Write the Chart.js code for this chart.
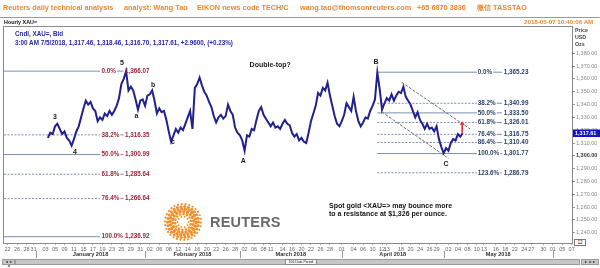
<!DOCTYPE html>
<html>
<head>
<meta charset="utf-8">
<script src="https://cdn.jsdelivr.net/npm/chart.js@4.4.1/dist/chart.umd.min.js"></script>
<style>
  html, body { margin: 0; padding: 0; background: #fff; }
  #wrap { position: relative; width: 600px; height: 268px; overflow: hidden; font-family: "Liberation Sans", Arial, sans-serif; }
  #chart { position: absolute; left: 0; top: 0; }
  .t { position: absolute; white-space: nowrap; line-height: 1; }
  .hd { top: 4px; color: #e8892f; font-weight: bold; font-size: 7.3px; }
  .ts { top: 19px; left: 524px; color: #e8892f; font-weight: bold; font-size: 6.2px; }
  .ttl { top: 20px; left: 4px; color: #111; font-weight: bold; font-size: 5.4px; }
  .panel { position: absolute; left: 0; top: 17px; width: 600px; border-top: 1px solid #9a9a9a; }
  .info { left: 15px; color: #2626a8; font-weight: bold; font-size: 6.3px; }
  .axt { left: 575px; color: #444; font-weight: bold; font-size: 5.3px; }
  .note { left: 329px; color: #111; font-weight: bold; font-size: 7px; }
  #brand { left: 210px; top: 215px; color: #6a6a6a; font-size: 14.5px; font-weight: bold; letter-spacing: 0.2px; }
  #logo { position: absolute; left: 163px; top: 202px; }
  .sb { position: absolute; top: 259px; height: 4px; background: #c6c6c6; border: 1px solid #9a9a9a; font-size: 3.6px; line-height: 4px; color: #222; text-align: center; }
  .dp { position: absolute; top: 259px; left: 285px; width: 30px; height: 4px; background: #f4f4f4; border: 1px solid #888; font-size: 3.4px; line-height: 4px; text-align: center; color: #222; }
  .box12 { position: absolute; left: 574px; top: 239px; width: 10px; height: 5px; border: 1px solid #777; font-size: 4.6px; line-height: 5px; text-align: center; color: #222; background: #fff; }
</style>
</head>
<body>
<div id="wrap">
  <canvas id="chart" width="600" height="268"></canvas>
  <div class="t hd" style="left:3px">Reuters daily technical analysis</div>
  <div class="t hd" style="left:124px">analyst: Wang Tao</div>
  <div class="t hd" style="left:197px">EIKON news code TECH/C</div>
  <div class="t hd" style="left:300px">wang.tao@thomsonreuters.com</div>
  <div class="t hd" style="left:417px">+65 6870 3836</div>
  <div class="t hd" style="left:477px">微信 TASSTAO</div>
  <div class="panel"></div>
  <div class="t ttl">Hourly XAU=</div>
  <div class="t ts">2018-05-07 10:40:06 AM</div>
  <div class="t axt" style="top:28px">Price</div>
  <div class="t axt" style="top:35px">USD</div>
  <div class="t axt" style="top:42px">Ozs</div>
  <div class="t info" style="top:31px">Cndl, XAU=, Bid</div>
  <div class="t info" style="top:39.5px">3:00 AM 7/5/2018, 1,317.46, 1,318.46, 1,316.70, 1,317.61, +2.9600, (+0.23%)</div>
  <div class="t note" style="top:201.5px">Spot gold &lt;XAU=&gt; may bounce more</div>
  <div class="t note" style="top:209.5px">to a resistance at $1,326 per ounce.</div>
  <canvas id="logo" width="40" height="40"></canvas>
  <div class="t" id="brand">REUTERS</div>
  <div class="sb" style="left:2px;width:11px">◄◄ ◄</div>
  <div class="sb" style="left:15px;width:563px"></div>
  <div class="dp">156 Data Period</div>
  <div class="sb" style="left:581px;width:16px">► ►►</div>
  <div class="box12">12</div>
</div>
<script>
// hourly XAU= closes, one value every half trading day from day 8.5 (Jan 4) to May 7
const startDay = 8.5;
const stepDay = 0.5;
const hourlyClose = [
  1314, 1318, 1317, 1323, 1325, 1321, 1317, 1319, 1314, 1312,
  1308, 1313, 1319, 1323, 1330, 1337, 1343, 1340, 1342, 1337,
  1335, 1327, 1330, 1328, 1333, 1331, 1335, 1332, 1335, 1339,
  1345, 1356, 1360, 1366, 1351, 1354, 1351, 1344, 1336, 1343,
  1344, 1339, 1347, 1348, 1351, 1343, 1333, 1337, 1334, 1335,
  1328, 1319, 1311, 1316, 1321, 1318, 1322, 1320, 1325, 1330,
  1335, 1321, 1353, 1356, 1361, 1355, 1350, 1347, 1342, 1338,
  1331, 1326, 1330, 1332, 1329, 1331, 1340, 1335, 1332, 1322,
  1318, 1316, 1312, 1304, 1316, 1315, 1321, 1320, 1328, 1335,
  1338, 1332, 1329, 1326, 1323, 1326, 1322, 1323, 1321, 1325,
  1328, 1325, 1324, 1318, 1315, 1317, 1312, 1314, 1311, 1310,
  1318, 1327, 1333, 1339, 1349, 1347, 1353, 1351, 1357, 1347,
  1339, 1331, 1325, 1323, 1327, 1332, 1341, 1338, 1335, 1346,
  1335, 1327, 1323, 1326, 1330, 1329, 1335, 1339, 1344, 1365,
  1352, 1336, 1341, 1345, 1343, 1348, 1343, 1347, 1350, 1349,
  1354, 1346, 1343, 1340, 1335, 1330, 1334, 1328, 1325, 1321,
  1325, 1321, 1322, 1319, 1323, 1313, 1307, 1302, 1306, 1304,
  1310, 1313, 1312, 1317, 1315, 1317.61
];
const lastPrice = 1317.61;

// fibonacci levels
const leftFibPct = ['0.0%', '38.2%', '50.0%', '61.8%', '76.4%', '100.0%'];
const leftFibPrice = [1366.07, 1316.35, 1300.99, 1285.64, 1266.64, 1236.92];
const leftFibDashed = [false, true, false, true, true, false];
const leftFibEnd = 19.5;
const rightFibPct = ['0.0%', '38.2%', '50.0%', '61.8%', '76.4%', '86.4%', '100.0%', '123.6%'];
const rightFibPrice = [1365.23, 1340.99, 1333.50, 1326.01, 1316.75, 1310.40, 1301.77, 1286.79];
const rightFibDashed = [false, true, false, true, true, true, false, true];
const rightFibStart = 78.0;
const rightFibEnd = 99.0;

// falling channel
const channelUpper = [[83.1, 1357.4], [97.6, 1320.9]];
const channelLower = [[78.9, 1334.4], [93.0, 1298.1]];

// wave labels
const waveText = ['3', '4', '5', 'a', 'b', 'c', 'A', 'B', 'C'];
const waveDay = [10.0, 14.2, 24.1, 27.2, 30.7, 34.9, 49.7, 77.7, 92.5];
const wavePrice = [1330.3, 1303.0, 1372.4, 1331.1, 1355.3, 1310.8, 1296.0, 1373.2, 1293.6];
const arrowDay = 95.9, arrowFrom = 1318, arrowTo = 1327;

// axes
const xMin = -0.76, xMax = 119.07;
const yMin = 1232.0, yMax = 1400.5;
const yTicks = [1240, 1250, 1260, 1270, 1280, 1290, 1300, 1310, 1320, 1330, 1340, 1350, 1360, 1370, 1380];
const tickDates = [
  '2017-12-22', '2017-12-26', '2017-12-28', '2017-12-31',
  '2018-01-03', '2018-01-05', '2018-01-09', '2018-01-11', '2018-01-15', '2018-01-17', '2018-01-19', '2018-01-23', '2018-01-25', '2018-01-29', '2018-01-31',
  '2018-02-02', '2018-02-06', '2018-02-08', '2018-02-12', '2018-02-14', '2018-02-16', '2018-02-20', '2018-02-22', '2018-02-26', '2018-02-28',
  '2018-03-02', '2018-03-06', '2018-03-08', '2018-03-11', '2018-03-14', '2018-03-16', '2018-03-20', '2018-03-22', '2018-03-26', '2018-03-28',
  '2018-04-01', '2018-04-04', '2018-04-06', '2018-04-10', '2018-04-12', '2018-04-13', '2018-04-18', '2018-04-20', '2018-04-24', '2018-04-26', '2018-04-29',
  '2018-05-02', '2018-05-04', '2018-05-08', '2018-05-10', '2018-05-13', '2018-05-16', '2018-05-18', '2018-05-22', '2018-05-24', '2018-05-27', '2018-05-30',
  '2018-06-01', '2018-06-05', '2018-06-07'
];
const monthNames = ['January 2018', 'February 2018', 'March 2018', 'April 2018', 'May 2018'];
const monthStarts = ['2018-01-01', '2018-02-01', '2018-03-01', '2018-04-01', '2018-05-01', '2018-06-01'];

// weekday count since Dec 22 2017; weekend dates sit half a day before Monday
const baseDate = Date.UTC(2017, 11, 22);
function tradingDay(s) {
  const [yy, mm, dd] = s.split('-').map(Number);
  let t = Date.UTC(yy, mm - 1, dd), shift = 0;
  const dow = new Date(t).getUTCDay();
  if (dow === 6) { t += 2 * 864e5; shift = -0.5; }
  if (dow === 0) { t += 864e5; shift = -0.5; }
  let n = 0;
  for (let u = baseDate; u < t; u += 864e5) {
    const w = new Date(u).getUTCDay();
    if (w !== 0 && w !== 6) n++;
  }
  return n + shift;
}
const tickIdx = tickDates.map(tradingDay);
const tickLabels = tickDates.map(d => d.slice(8));
const monthIdx = monthStarts.map(tradingDay);

const fmt = v => v.toLocaleString('en-US', { minimumFractionDigits: 2, maximumFractionDigits: 2 });

const fibColor = '#7b8db0';
const datasets = [{
  data: hourlyClose.map((p, i) => ({ x: startDay + i * stepDay, y: p })),
  borderColor: '#20208f', borderWidth: 2, pointRadius: 0, tension: 0
}];
leftFibPrice.forEach((p, i) => datasets.push({
  data: [{ x: xMin, y: p }, { x: leftFibEnd, y: p }],
  borderColor: fibColor, borderWidth: 1, borderDash: leftFibDashed[i] ? [2, 1.5] : [], pointRadius: 0
}));
rightFibPrice.forEach((p, i) => datasets.push({
  data: [{ x: rightFibStart, y: p }, { x: rightFibEnd, y: p }],
  borderColor: fibColor, borderWidth: 1, borderDash: rightFibDashed[i] ? [2, 1.5] : [], pointRadius: 0
}));
[channelUpper, channelLower].forEach(c => datasets.push({
  data: c.map(([d, p]) => ({ x: d, y: p })),
  borderColor: '#444', borderWidth: 0.8, borderDash: [3, 1.5], pointRadius: 0
}));

const overlay = {
  id: 'overlay',
  afterDatasetsDraw(chart) {
    const { ctx, scales: { x, y }, chartArea: a } = chart;
    ctx.save();
    ctx.strokeStyle = '#8a8a8a';
    ctx.lineWidth = 1;
    ctx.strokeRect(a.left - 0.5, a.top - 0.5, a.right - a.left + 1, a.bottom - a.top + 1);
    ctx.textBaseline = 'middle';
    ctx.font = 'bold 6.3px "Liberation Sans"';
    // left fib labels
    leftFibPct.forEach((t, i) => {
      const py = y.getPixelForValue(leftFibPrice[i]), px = x.getPixelForValue(leftFibEnd);
      ctx.fillStyle = '#9c2536';
      ctx.fillText(t, px + 1.5, py);
      const w = ctx.measureText(t).width;
      ctx.strokeStyle = fibColor; ctx.beginPath();
      ctx.moveTo(px + 2.5 + w, py); ctx.lineTo(px + 23.5, py); ctx.stroke();
      ctx.fillText(fmt(leftFibPrice[i]), px + 25, py);
    });
    // right fib labels
    rightFibPct.forEach((t, i) => {
      const py = y.getPixelForValue(rightFibPrice[i]), px = x.getPixelForValue(rightFibEnd);
      ctx.fillStyle = '#2b3f6b';
      ctx.fillText(t, px + 1, py);
      const w = ctx.measureText(t).width;
      ctx.strokeStyle = fibColor; ctx.beginPath();
      ctx.moveTo(px + 2 + w, py); ctx.lineTo(px + 25, py); ctx.stroke();
      ctx.fillText(fmt(rightFibPrice[i]), px + 27, py);
    });
    // wave labels
    ctx.fillStyle = '#1a1a1a';
    ctx.textAlign = 'center';
    ctx.font = 'bold 7px "Liberation Sans"';
    waveText.forEach((t, i) => ctx.fillText(t, x.getPixelForValue(waveDay[i]), y.getPixelForValue(wavePrice[i])));
    ctx.fillText('Double-top?', x.getPixelForValue(55.4), y.getPixelForValue(1370.6));
    // red arrow
    const ax = x.getPixelForValue(arrowDay), ay0 = y.getPixelForValue(arrowFrom), ay1 = y.getPixelForValue(arrowTo);
    ctx.strokeStyle = '#e02a2a'; ctx.fillStyle = '#e02a2a'; ctx.lineWidth = 1.6;
    ctx.beginPath(); ctx.moveTo(ax, ay0); ctx.lineTo(ax, ay1 + 3); ctx.stroke();
    ctx.beginPath(); ctx.moveTo(ax - 2.6, ay1 + 3.5); ctx.lineTo(ax + 2.6, ay1 + 3.5); ctx.lineTo(ax, ay1); ctx.closePath(); ctx.fill();
    // month labels and separators
    ctx.font = 'bold 5.6px "Liberation Sans"';
    ctx.fillStyle = '#333';
    ctx.strokeStyle = '#999'; ctx.lineWidth = 1;
    monthIdx.forEach((d, i) => {
      const px = Math.round(x.getPixelForValue(d)) + 0.5;
      ctx.beginPath(); ctx.moveTo(px, 251); ctx.lineTo(px, 258); ctx.stroke();
      if (i < monthNames.length) {
        ctx.fillText(monthNames[i], (x.getPixelForValue(d) + x.getPixelForValue(monthIdx[i + 1])) / 2, 254.5);
      }
    });
    ctx.restore();
  },
  afterDraw(chart) {
    const { ctx, scales: { y }, chartArea: a } = chart;
    const py = y.getPixelForValue(lastPrice);
    ctx.save();
    ctx.fillStyle = '#1414c4';
    ctx.fillRect(a.right + 1, py - 3.8, 600 - a.right - 1, 7.6);
    ctx.fillStyle = '#fff';
    ctx.font = 'bold 5.5px "Liberation Sans"';
    ctx.textBaseline = 'middle';
    ctx.fillText(fmt(lastPrice), a.right + 3, py);
    ctx.restore();
  }
};

new Chart(document.getElementById('chart'), {
  type: 'line',
  data: { datasets },
  options: {
    responsive: false,
    animation: false,
    layout: { padding: { left: 4, top: 27, right: 0, bottom: 0 } },
    plugins: { legend: { display: false }, tooltip: { enabled: false } },
    scales: {
      x: {
        type: 'linear', min: xMin, max: xMax,
        afterBuildTicks: s => { s.ticks = tickIdx.map(v => ({ value: v })); },
        afterFit: s => { s.height = 25; s.paddingLeft = 0; s.paddingRight = 0; },
        ticks: { autoSkip: false, maxRotation: 0, padding: 1, color: '#666',
          font: { size: 5.5, family: 'Liberation Sans' },
          callback: (v, i) => tickLabels[i] },
        grid: { drawOnChartArea: false, tickLength: 2, color: '#aaa' },
        border: { color: '#888' }
      },
      y: {
        position: 'right', min: yMin, max: yMax,
        afterBuildTicks: s => { s.ticks = yTicks.map(v => ({ value: v })); },
        afterFit: s => { s.width = 28; s.paddingTop = 0; s.paddingBottom = 0; },
        ticks: { autoSkip: false, padding: 1,
          color: c => (c.tick && c.tick.value === 1300 ? '#333' : '#888'),
          font: c => ({ size: 5.5, family: 'Liberation Sans', weight: c.tick && c.tick.value === 1300 ? 'bold' : 'normal' }),
          callback: v => fmt(v) },
        grid: { drawOnChartArea: false, tickLength: 3, color: '#999' },
        border: { color: '#888' }
      }
    }
  },
  plugins: [overlay]
});

// Reuters dot logo
const lg = document.getElementById('logo').getContext('2d');
const rings = [[5.5, 10, 0.9], [8, 14, 1.3], [10.5, 18, 1.6], [13, 22, 1.7], [15.5, 26, 1.5], [18, 30, 1.1]];
lg.fillStyle = '#f0902a';
rings.forEach(([r, n, s], k) => {
  for (let i = 0; i < n; i++) {
    const t = i / n * 2 * Math.PI + k * 0.3;
    lg.beginPath();
    lg.arc(20 + r * Math.cos(t), 20 + r * Math.sin(t), s, 0, 2 * Math.PI);
    lg.fill();
  }
});
</script>
</body>
</html>
